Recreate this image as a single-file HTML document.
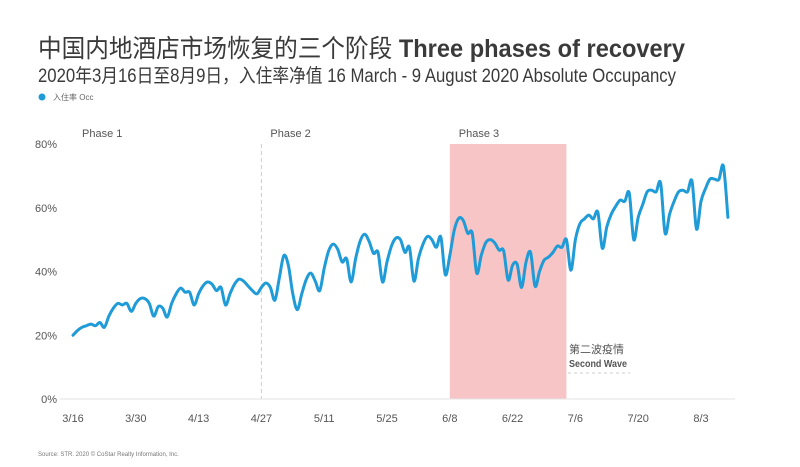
<!DOCTYPE html>
<html><head><meta charset="utf-8"><style>
html,body{margin:0;padding:0;background:#fff;}
svg{display:block;font-family:"Liberation Sans","Noto Sans CJK SC",sans-serif;}
</style></head><body>
<svg id="chart" width="800" height="467" viewBox="0 0 800 467">
<text x="38" y="57" font-size="25" fill="#3a3a3a" textLength="647" lengthAdjust="spacingAndGlyphs">中国内地酒店市场恢复的三个阶段 <tspan font-weight="bold">Three phases of recovery</tspan></text>
<text x="38" y="82" font-size="19" fill="#3a3a3a" textLength="638" lengthAdjust="spacingAndGlyphs">2020年3月16日至8月9日，入住率净值 16 March - 9 August 2020 Absolute Occupancy</text>
<circle cx="42" cy="97" r="3.5" fill="#1f9bd7"/>
<text x="53" y="100" font-size="8" fill="#666">入住率 Occ</text>
<g id="plot"></g>
<text x="569" y="353" font-size="11" fill="#555">第二波疫情</text>
<text x="569" y="367" font-size="10" font-weight="bold" fill="#555" textLength="58" lengthAdjust="spacingAndGlyphs">Second Wave</text>
<line x1="568" y1="373" x2="630" y2="373" stroke="#ccc" stroke-dasharray="3,3"/>
<text x="38" y="456" font-size="6" fill="#777">Source: STR. 2020 © CoStar Realty Information, Inc.</text>
</svg>
<script>
const yTicks=[0,20,40,60,80];
const xTickLabels=["3/16","3/30","4/13","4/27","5/11","5/25","6/8","6/22","7/6","7/20","8/3"];
const xTickDays=[0,14,28,42,56,70,84,98,112,126,140];
const phaseLabels=["Phase 1","Phase 2","Phase 3"];
const phaseStartDays=[0,42,84];
const shadeStartDay=84, shadeEndDay=110;
const occ=[20,21.5,22.5,23,23.5,23,24,22.5,26,28.5,30,29.5,30,27.5,30,31.5,31.5,30,26,29,28.5,25.7,30,33,34.8,33.5,33.5,29.5,33,35.5,36.7,36,34,35,29.5,33,36,37.6,37,35.5,34,33,35,36.4,35,31,38,45,42,33,28,33,37.5,39.5,37,34,41,46.5,48.6,47,43,44,36.7,44,49.5,51.7,49.5,45.7,46,36.7,43,48,50.5,50,46,47.6,37,44,48.5,51,50,47.6,50.8,39,45,53,56.7,56,52,52,39.5,45,49,50,49,46.7,46.5,37.3,42,42.3,35,43,46,35.4,40,43.5,44.5,46,48,47.6,50,40.4,50,55,56.5,57.7,56.5,58.6,47.3,54,58,60.5,62.4,62,64.6,50,57,61,65,65.5,65,67.7,52,58,62,65,65.5,65,68.3,53.3,62,66,69,69,68.9,73,57];
const X0=73,X1=701,Y0=399,Y80=144;
const xs=d=>X0+(X1-X0)*d/140;
const ys=v=>Y0-(Y0-Y80)*v/80;
const NS="http://www.w3.org/2000/svg";
const g=document.getElementById('plot');
function mk(t,a){const e=document.createElementNS(NS,t);for(const k in a)e.setAttribute(k,a[k]);g.appendChild(e);return e;}
const sh=mk('rect',{x:xs(shadeStartDay),y:ys(80),width:xs(shadeEndDay)-xs(shadeStartDay),height:ys(0)-ys(80),fill:'#f8c5c6'});


const dl=mk('line',{x1:xs(42),x2:xs(42),y1:ys(80),y2:ys(0),stroke:'#ccc','stroke-dasharray':'4,3'});


const ax=mk('line',{x1:60,x2:735,y1:Y0,y2:Y0,stroke:'#e3e3e3'});


yTicks.forEach(v=>{const t=mk('text',{x:57,y:ys(v)+4,'font-size':11,fill:'#555','text-anchor':'end'});t.textContent=v+'%';

});
xTickLabels.forEach((l,i)=>{const t=mk('text',{x:xs(xTickDays[i]),y:422,'font-size':11,fill:'#555','text-anchor':'middle'});t.textContent=l;

});
phaseLabels.forEach((l,i)=>{const t=mk('text',{x:xs(phaseStartDays[i])+9,y:137,'font-size':11,fill:'#555'});t.textContent=l;

});
const P=occ.map((v,i)=>[xs(i),ys(v)]);
let d='M'+P[0][0]+','+P[0][1];
for(let i=0;i<P.length-1;i++){const p0=P[Math.max(0,i-1)],p1=P[i],p2=P[i+1],p3=P[Math.min(P.length-1,i+2)];
d+=' C'+(p1[0]+(p2[0]-p0[0])/6)+','+(p1[1]+(p2[1]-p0[1])/6)+' '+(p2[0]-(p3[0]-p1[0])/6)+','+(p2[1]-(p3[1]-p1[1])/6)+' '+p2[0]+','+p2[1];}
const ln=mk('path',{d:d,fill:'none',stroke:'#1f9bd7','stroke-width':3,'stroke-linejoin':'round','stroke-linecap':'round'});


</script>
</body></html>
